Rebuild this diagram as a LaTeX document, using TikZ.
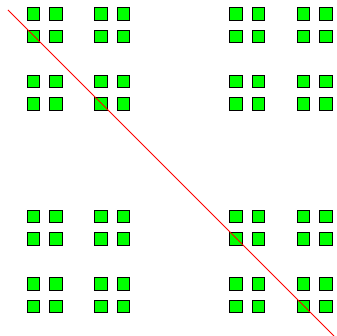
\documentclass[tikz,border=0pt]{standalone}
\usepackage{tikz}
\usetikzlibrary{positioning}
\definecolor{DustGreen}{RGB}{0,255,0}
\definecolor{CutRed}{RGB}{255,0,0}
\tikzset{dust/.style={draw=black,fill=DustGreen,line width=0.8pt,minimum size=12.5pt,inner sep=0pt}}

\begin{document}
\begin{tikzpicture}[x=1pt,y=-1pt]
  \useasboundingbox (0,0) rectangle (336,336);
  \foreach \i in {0,1,3,4,9,10,12,13}{
    \foreach \j in {0,1,3,4,9,10,12,13}{
      \node[dust] (sq-\i-\j) at ({33.5+22.5*\i},{14+22.5*\j}) {};
    }
  }
  \coordinate (cut-a) at (8,10);
  \coordinate (cut-b) at (334,336);
  \draw[CutRed,line width=0.8pt] (cut-a)--(cut-b);
\end{tikzpicture}
\end{document}
